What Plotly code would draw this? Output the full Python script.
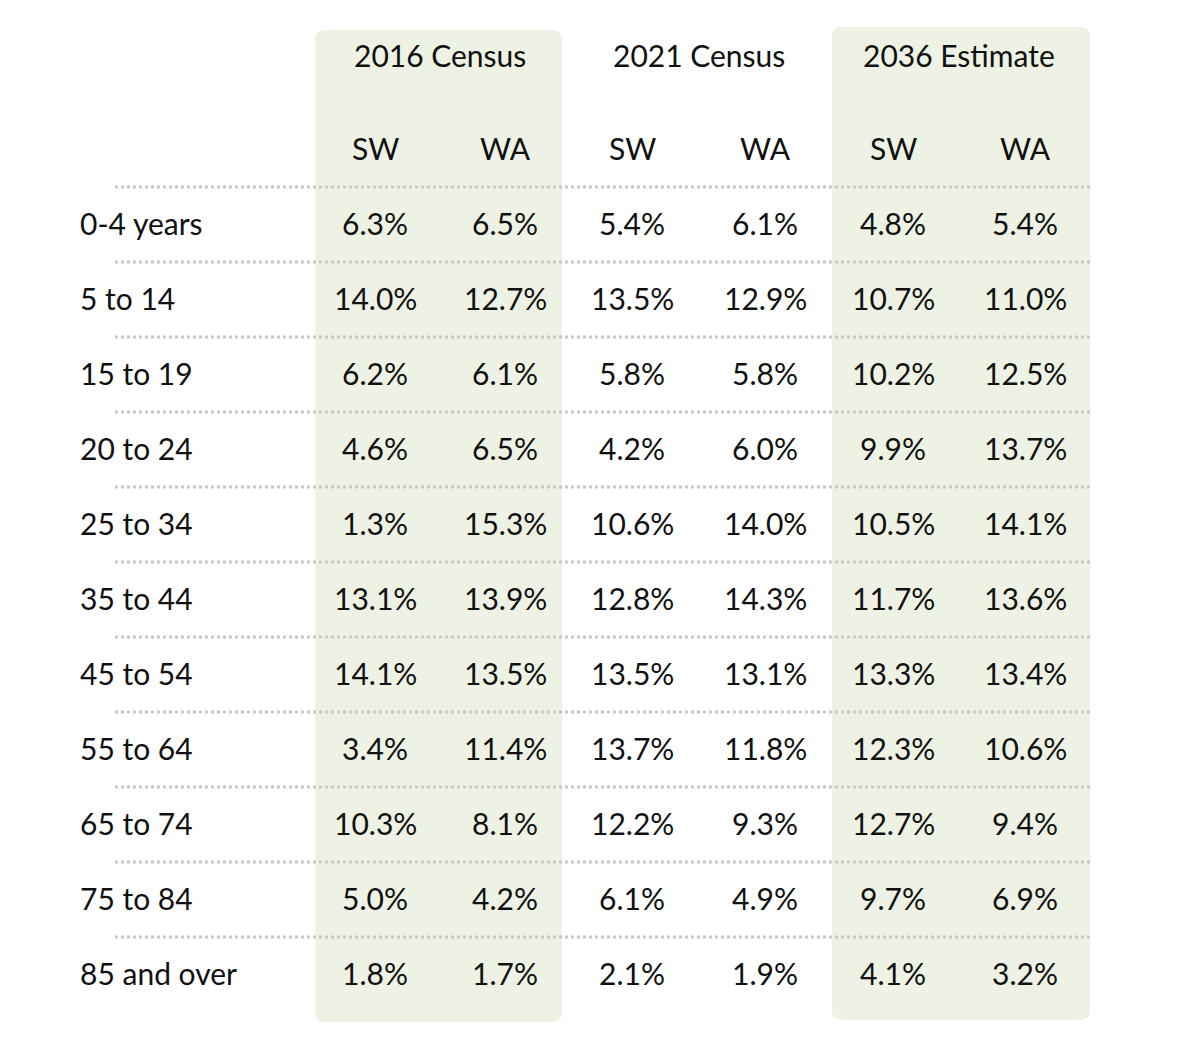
import plotly.graph_objects as go

# age groups and percentages (SW / WA per period)
AGE_GROUPS = ["0-4 years", "5 to 14", "15 to 19", "20 to 24", "25 to 34", "35 to 44",
              "45 to 54", "55 to 64", "65 to 74", "75 to 84", "85 and over"]
PERIODS = ["2016 Census", "2021 Census", "2036 Estimate"]
VALUES = [
    ["6.3%", "6.5%", "5.4%", "6.1%", "4.8%", "5.4%"],
    ["14.0%", "12.7%", "13.5%", "12.9%", "10.7%", "11.0%"],
    ["6.2%", "6.1%", "5.8%", "5.8%", "10.2%", "12.5%"],
    ["4.6%", "6.5%", "4.2%", "6.0%", "9.9%", "13.7%"],
    ["1.3%", "15.3%", "10.6%", "14.0%", "10.5%", "14.1%"],
    ["13.1%", "13.9%", "12.8%", "14.3%", "11.7%", "13.6%"],
    ["14.1%", "13.5%", "13.5%", "13.1%", "13.3%", "13.4%"],
    ["3.4%", "11.4%", "13.7%", "11.8%", "12.3%", "10.6%"],
    ["10.3%", "8.1%", "12.2%", "9.3%", "12.7%", "9.4%"],
    ["5.0%", "4.2%", "6.1%", "4.9%", "9.7%", "6.9%"],
    ["1.8%", "1.7%", "2.1%", "1.9%", "4.1%", "3.2%"],
]

COL_X = [375, 505, 632, 765, 893, 1025]
FONT = dict(family="Lato, sans-serif", size=30, color="#111111")
GREEN = "#edf2e4"
OFFSET = 8  # page body margin


def rounded_rect(x0, y0, x1, y1, r=10):
    """SVG path for a rectangle with rounded corners."""
    return (f"M{x0+r},{y0} L{x1-r},{y0} Q{x1},{y0} {x1},{y0+r} L{x1},{y1-r} "
            f"Q{x1},{y1} {x1-r},{y1} L{x0+r},{y1} Q{x0},{y1} {x0},{y1-r} "
            f"L{x0},{y0+r} Q{x0},{y0} {x0+r},{y0} Z")


def build_table():
    fig = go.Figure()

    # shaded column groups
    fig.add_shape(type="path", path=rounded_rect(315, 30, 562, 1022), fillcolor=GREEN, line_width=0, layer="below")
    fig.add_shape(type="path", path=rounded_rect(832, 27, 1090, 1020), fillcolor=GREEN, line_width=0, layer="below")

    # dotted separators
    for i in range(len(AGE_GROUPS)):
        y = 187 + 75 * i
        fig.add_shape(type="line", x0=115, x1=1090, y0=y, y1=y,
                      line=dict(color="#c8c8c8", width=3, dash="dot"))

    # headers
    for k, p in enumerate(PERIODS):
        fig.add_annotation(x=(COL_X[2*k] + COL_X[2*k+1]) / 2, y=55, text=p, showarrow=False, font=FONT)
        fig.add_annotation(x=COL_X[2*k], y=148, text="SW", showarrow=False, font=FONT)
        fig.add_annotation(x=COL_X[2*k+1], y=148, text="WA", showarrow=False, font=FONT)

    # body
    for i, (age, row) in enumerate(zip(AGE_GROUPS, VALUES)):
        y = 223 + 75 * i
        fig.add_annotation(x=78, y=y, text=age, showarrow=False, font=FONT, xanchor="left")
        for x, v in zip(COL_X, row):
            fig.add_annotation(x=x, y=y, text=v, showarrow=False, font=FONT)

    fig.update_layout(
        width=1181, height=1063,
        margin=dict(l=0, r=0, t=0, b=0),
        plot_bgcolor="white", paper_bgcolor="white",
        xaxis=dict(range=[OFFSET, 1181 + OFFSET], visible=False),
        yaxis=dict(range=[1063 + OFFSET, OFFSET], visible=False),
        showlegend=False,
    )
    return fig


fig = build_table()
fig.write_html("out.html")
